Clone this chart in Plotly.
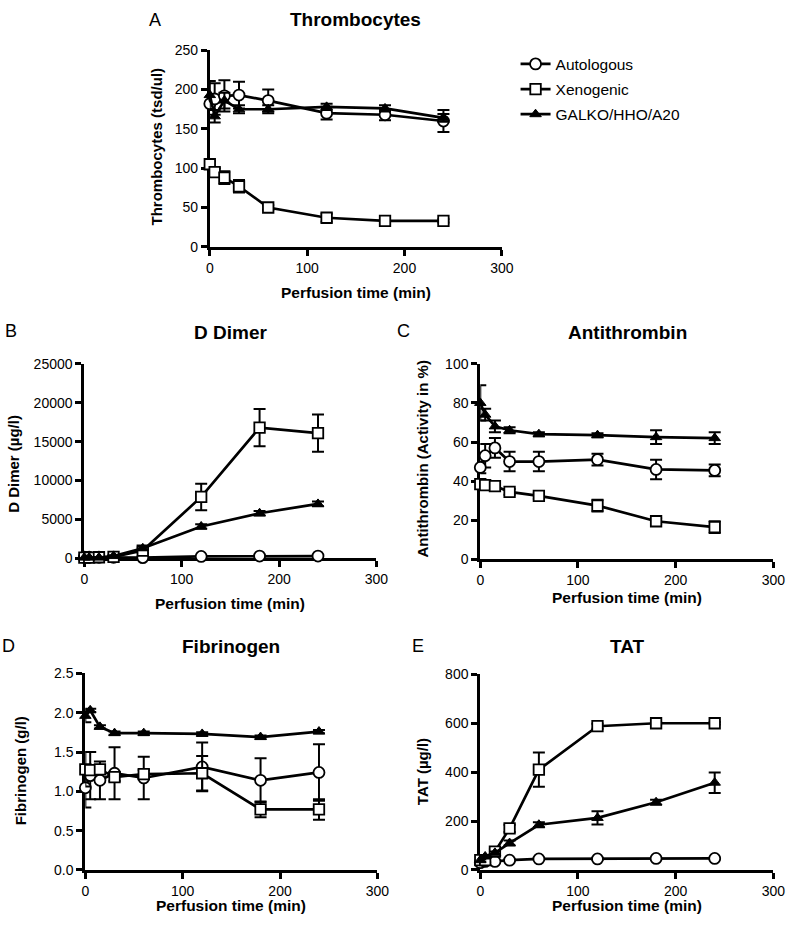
import plotly.graph_objects as go

# ---------------- data ----------------
time_min = [0, 5, 15, 30, 60, 120, 180, 240]
series_names = ["Autologous", "Xenogenic", "GALKO/HHO/A20"]

# A: Thrombocytes (tsd/ul)
thr_auto = [182, 188, 192, 193, 186, 170, 168, 160]
thr_auto_err = [8, 20, 20, 17, 14, 8, 7, 14]
thr_xeno = [105, 95, 88, 77, 50, 37, 33, 33]
thr_xeno_err = [4, 5, 8, 8, 3, 5, 2, 2]
thr_galko = [193, 166, 186, 175, 175, 178, 176, 164]
thr_galko_err = [18, 8, 10, 5, 5, 4, 4, 5]

# B: D Dimer (ug/l)
dd_auto = [150, 150, 150, 150, 100, 250, 300, 300]
dd_auto_err = [50, 50, 50, 50, 50, 50, 50, 50]
dd_xeno = [100, 100, 150, 200, 1000, 7900, 16800, 16100]
dd_xeno_err = [50, 50, 50, 100, 300, 1700, 2400, 2400]
dd_galko = [100, 100, 100, 300, 1300, 4100, 5800, 7000]
dd_galko_err = [50, 50, 50, 100, 200, 300, 300, 300]

# C: Antithrombin (activity in %)
at_auto = [47, 53, 57, 50, 50, 51, 46, 45.5]
at_auto_err = [3, 6, 5, 5, 5, 3, 5, 3]
at_xeno = [38.5, 38, 37.5, 34.5, 32.5, 27.5, 19.5, 16.5]
at_xeno_err = [2, 1, 1, 1.5, 1.5, 3, 1.5, 3]
at_galko = [80, 74, 68, 66, 64, 63.5, 62.5, 62]
at_galko_err = [9, 3, 3, 1.5, 1, 1, 3.5, 3]

# D: Fibrinogen (g/l)
fib_auto = [1.045, 1.2, 1.14, 1.23, 1.17, 1.31, 1.14, 1.24]
fib_auto_err = [0.25, 0.3, 0.24, 0.33, 0.27, 0.31, 0.28, 0.36]
fib_xeno = [1.28, 1.27, 1.28, 1.18, 1.22, 1.23, 0.77, 0.77]
fib_xeno_err = [0.22, 0.05, 0.05, 0.05, 0.05, 0.22, 0.1, 0.13]
fib_galko = [1.96, 2.03, 1.82, 1.74, 1.74, 1.73, 1.69, 1.76]
fib_galko_err = [0.08, 0.02, 0.02, 0.02, 0.02, 0.02, 0.02, 0.02]

# E: TAT (ug/l)
tat_auto = [30, 35, 35, 40, 45, 45, 47, 47]
tat_auto_err = [3, 3, 3, 3, 3, 3, 3, 3]
tat_xeno = [40, 40, 75, 170, 410, 588, 600, 600]
tat_xeno_err = [10, 10, 10, 15, 70, 10, 5, 5]
tat_galko = [40, 55, 70, 110, 185, 213, 277, 357]
tat_galko_err = [5, 5, 5, 10, 10, 27, 10, 42]

panels = [
    ("A", "Thrombocytes", "Thrombocytes (tsd/ul)",
     [(thr_auto, thr_auto_err), (thr_xeno, thr_xeno_err), (thr_galko, thr_galko_err)],
     [0, 250], [0, 50, 100, 150, 200, 250], "d"),
    ("B", "D Dimer", "D Dimer (µg/l)",
     [(dd_auto, dd_auto_err), (dd_xeno, dd_xeno_err), (dd_galko, dd_galko_err)],
     [0, 25000], [0, 5000, 10000, 15000, 20000, 25000], "d"),
    ("C", "Antithrombin", "Antithrombin (Activity in %)",
     [(at_auto, at_auto_err), (at_xeno, at_xeno_err), (at_galko, at_galko_err)],
     [0, 100], [0, 20, 40, 60, 80, 100], "d"),
    ("D", "Fibrinogen", "Fibrinogen (g/l)",
     [(fib_auto, fib_auto_err), (fib_xeno, fib_xeno_err), (fib_galko, fib_galko_err)],
     [0, 2.5], [0, 0.5, 1.0, 1.5, 2.0, 2.5], ".1f"),
    ("E", "TAT", "TAT (µg/l)",
     [(tat_auto, tat_auto_err), (tat_xeno, tat_xeno_err), (tat_galko, tat_galko_err)],
     [0, 800], [0, 200, 400, 600, 800], "d"),
]

# ---------------- layout geometry (pixels) ----------------
W, H = 800, 933
# plot area boxes: (x0, x1, ytop, ybottom)
boxes = [
    (210, 508, 43, 243),
    (82, 380, 362, 560),
    (486, 785, 362, 561),
    (83, 381, 677, 877),
    (486, 785, 678, 877),
]
letter_pos = [(154, 12), (7, 329), (408, 329), (5, 649), (422, 649)]
ytitle_pos = [(156, 141), (9, 464), (427, 458), (17, 776), (427, 777)]
xtitle_y = [289, 606, 600, 913, 913]
title_pos = [(359, 12), (231, 330), (636, 330), (232, 650), (636, 650)]

FONT = "Liberation Sans, Arial, Helvetica, sans-serif"
symbols = [
    dict(symbol="circle", color="white", size=11, line=dict(color="black", width=1.8)),
    dict(symbol="square", color="white", size=10.5, line=dict(color="black", width=1.8)),
    dict(symbol="triangle-up", color="black", size=10, line=dict(color="black", width=1)),
]

fig = go.Figure()
annotations = []
layout_axes = {}

for i, (letter, title, ytitle, data, yrange, yticks, yfmt) in enumerate(panels):
    n = "" if i == 0 else str(i + 1)
    x0, x1, yt, yb = boxes[i]
    for s, (vals, errs) in enumerate(data):
        fig.add_trace(go.Scatter(
            x=time_min, y=vals,
            error_y=dict(type="data", array=errs, visible=True, color="black",
                         thickness=2, width=6),
            mode="lines+markers",
            line=dict(color="black", width=2.7),
            marker=symbols[s],
            name=series_names[s],
            showlegend=(i == 0),
            legendgroup=series_names[s],
            cliponaxis=False,
            xaxis="x" + n, yaxis="y" + n,
        ))
    layout_axes["xaxis" + n] = dict(
        domain=[x0 / W, x1 / W], anchor="y" + n, range=[0, 300],
        tickvals=[0, 100, 200, 300], showline=True, linewidth=3, linecolor="black",
        ticks="outside", ticklen=6, tickwidth=3, tickcolor="black",
        showgrid=False, zeroline=False, layer="below traces",
        tickfont=dict(size=14, color="black", family=FONT),
    )
    layout_axes["yaxis" + n] = dict(
        domain=[1 - yb / H, 1 - yt / H], anchor="x" + n, range=yrange,
        tickvals=yticks, tickformat=yfmt, showline=True, linewidth=3, linecolor="black",
        ticks="outside", ticklen=6, tickwidth=3, tickcolor="black",
        showgrid=False, zeroline=False, layer="below traces",
        tickfont=dict(size=14, color="black", family=FONT),
    )

    cx = (x0 + x1) / 2
    annotations.append(dict(text="<b>%s</b>" % title, x=title_pos[i][0] / W, y=1 - title_pos[i][1] / H,
                            xref="paper", yref="paper", showarrow=False,
                            xanchor="center", yanchor="middle",
                            font=dict(size=19, color="black", family=FONT)))
    annotations.append(dict(text=letter, x=letter_pos[i][0] / W, y=1 - letter_pos[i][1] / H,
                            xref="paper", yref="paper", showarrow=False,
                            xanchor="center", yanchor="middle",
                            font=dict(size=18, color="black", family=FONT)))
    annotations.append(dict(text="<b>%s</b>" % ytitle, x=ytitle_pos[i][0] / W, y=1 - ytitle_pos[i][1] / H,
                            xref="paper", yref="paper", showarrow=False, textangle=-90,
                            xanchor="center", yanchor="middle",
                            font=dict(size=15, color="black", family=FONT)))
    annotations.append(dict(text="<b>Perfusion time (min)</b>", x=cx / W,
                            y=1 - xtitle_y[i] / H,
                            xref="paper", yref="paper", showarrow=False,
                            xanchor="center", yanchor="middle",
                            font=dict(size=15.5, color="black", family=FONT)))

fig.update_layout(
    width=W, height=H,
    margin=dict(l=0, r=0, t=0, b=0),
    paper_bgcolor="white", plot_bgcolor="white",
    font=dict(family=FONT, color="black"),
    showlegend=True,
    legend=dict(x=522 / W, y=1 - 40 / H, xanchor="left", yanchor="top",
                font=dict(size=15.5, color="black", family=FONT),
                itemwidth=30, bgcolor="rgba(0,0,0,0)", borderwidth=0,
                tracegroupgap=2),
    annotations=annotations,
    **layout_axes,
)

fig.write_html("out.html",
               post_script="document.documentElement.style.margin='0px';document.body.style.margin='0px';"
                           "document.documentElement.style.overflow='hidden';document.body.style.overflow='hidden';",
               config={"displayModeBar": False})
